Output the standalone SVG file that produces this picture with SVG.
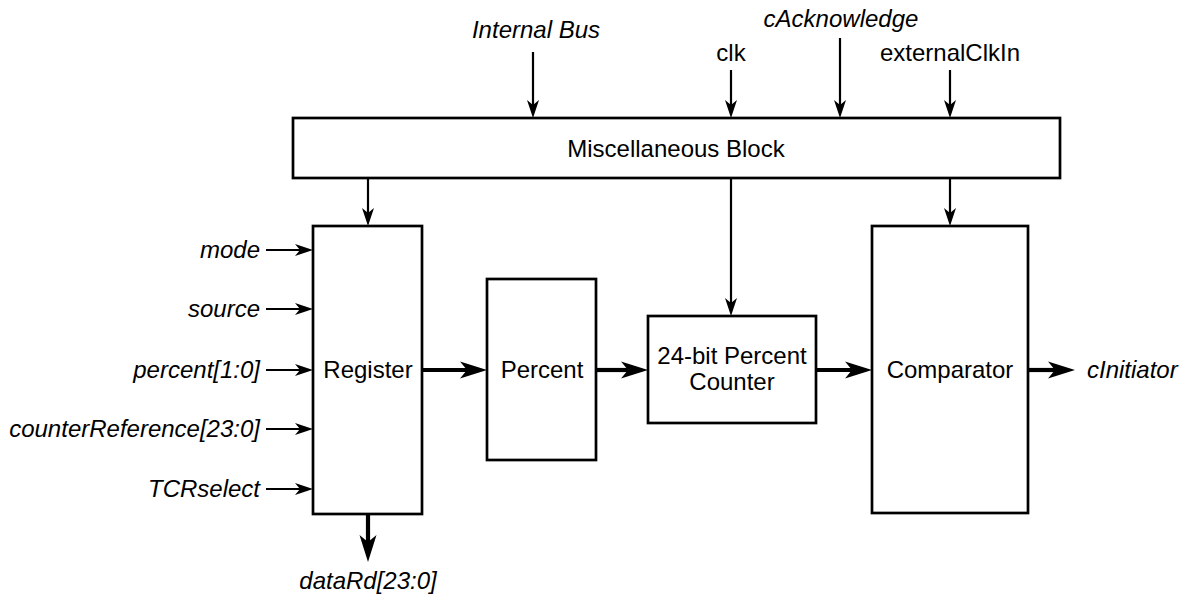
<svg xmlns="http://www.w3.org/2000/svg" width="1183" height="597" viewBox="0 0 1183 597">
<style>
text{font-family:"Liberation Sans",Arial,Helvetica,sans-serif;font-size:24px;fill:#000}
.it{font-style:italic}
.box{fill:#fff;stroke:#000;stroke-width:2.7}
.thin{stroke:#000;stroke-width:2.2;fill:none;marker-end:url(#ah)}
.thick{stroke:#000;stroke-width:4.2;fill:none;marker-end:url(#ahb)}
</style>
<defs>
<marker id="ah" markerUnits="userSpaceOnUse" markerWidth="40" markerHeight="40" refX="0" refY="0" orient="auto" viewBox="-20 -20 40 40" overflow="visible">
<path d="M13,0 L-5,-6 L0,0 L-5,6 Z" fill="#000"/>
</marker>
<marker id="ahb" markerUnits="userSpaceOnUse" markerWidth="60" markerHeight="60" refX="0" refY="0" orient="auto" viewBox="-30 -30 60 60" overflow="visible">
<path d="M20,0 L-7,-8.5 L0,0 L-7,8.5 Z" fill="#000"/>
</marker>
</defs>
<g id="connectors">
<line class="thin" x1="533" y1="52" x2="533" y2="105"/>
<line class="thin" x1="731" y1="70" x2="731" y2="105"/>
<line class="thin" x1="840" y1="38" x2="840" y2="105"/>
<line class="thin" x1="950" y1="70" x2="950" y2="105"/>
<line class="thin" x1="368" y1="178" x2="368" y2="213"/>
<line class="thin" x1="731" y1="178" x2="731" y2="303"/>
<line class="thin" x1="950" y1="178" x2="950" y2="213"/>
<line class="thin" x1="266" y1="250" x2="300" y2="250"/>
<line class="thin" x1="266" y1="309" x2="300" y2="309"/>
<line class="thin" x1="266" y1="370" x2="300" y2="370"/>
<line class="thin" x1="266" y1="429" x2="300" y2="429"/>
<line class="thin" x1="266" y1="489" x2="300" y2="489"/>
<line class="thick" x1="368" y1="515" x2="368" y2="542"/>
<line class="thick" x1="423" y1="370" x2="467" y2="370"/>
<line class="thick" x1="597" y1="370" x2="628" y2="370"/>
<line class="thick" x1="817" y1="370" x2="852" y2="370"/>
<line class="thick" x1="1029" y1="370" x2="1055" y2="370"/>
</g>
<g id="labels">
<text class="it" x="536" y="38" text-anchor="middle">Internal Bus</text>
<text x="731" y="61" text-anchor="middle">clk</text>
<text class="it" x="841" y="27" text-anchor="middle">cAcknowledge</text>
<text x="950" y="61" text-anchor="middle">externalClkIn</text>
<text class="it" x="260" y="258" text-anchor="end">mode</text>
<text class="it" x="260" y="317" text-anchor="end">source</text>
<text class="it" x="260" y="378" text-anchor="end">percent[1:0]</text>
<text class="it" x="260" y="437" text-anchor="end">counterReference[23:0]</text>
<text class="it" x="260" y="497" text-anchor="end">TCRselect</text>
<text class="it" x="368" y="589" text-anchor="middle">dataRd[23:0]</text>
<text class="it" x="1087" y="378">cInitiator</text>
</g>
<g id="misc">
<rect class="box" x="293" y="118" width="767" height="60"/>
<text x="676" y="157" text-anchor="middle">Miscellaneous Block</text>
</g>
<g id="register">
<rect class="box" x="313" y="226" width="109" height="288"/>
<text x="368" y="378" text-anchor="middle">Register</text>
</g>
<g id="percent">
<rect class="box" x="487" y="279" width="109" height="181"/>
<text x="542" y="378" text-anchor="middle">Percent</text>
</g>
<g id="counter">
<rect class="box" x="648" y="316" width="168" height="107"/>
<text x="732" y="364" text-anchor="middle">24-bit Percent</text>
<text x="732" y="390" text-anchor="middle">Counter</text>
</g>
<g id="comparator">
<rect class="box" x="872" y="226" width="156" height="287"/>
<text x="950" y="378" text-anchor="middle">Comparator</text>
</g>
</svg>
